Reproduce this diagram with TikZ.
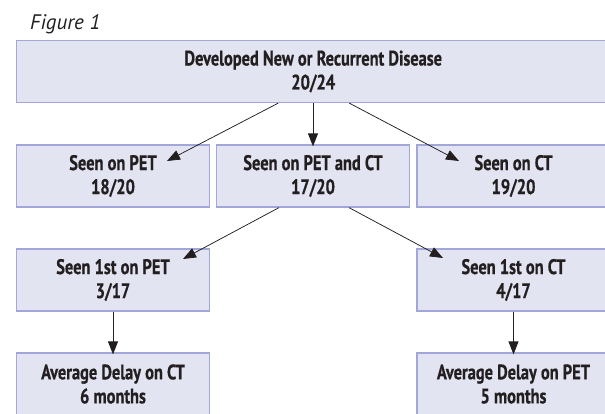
\documentclass[tikz,border=0pt]{standalone}
\usepackage{fontspec}
\setmainfont{PT Sans}
\newfontfamily\condBold{PT Sans}[FakeStretch=0.78, BoldFeatures={FakeBold=0.6}]
\usetikzlibrary{arrows.meta}
\definecolor{boxFill}{HTML}{E3E4F2}
\definecolor{boxLine}{HTML}{A3A6D8}
\definecolor{inkBlack}{HTML}{231F20}
\newcommand{\flowCell}[2]{#1\\#2}

\begin{document}
\begin{tikzpicture}[x=1pt,y=-1pt,
  box/.style={draw=boxLine, fill=boxFill, line width=1.2pt, minimum width=193pt,
    minimum height=62pt, inner sep=0pt, align=center, text=inkBlack,
    font=\condBold\bfseries\fontsize{21}{24}\selectfont},
  arr/.style={-{Triangle[length=13pt,width=10pt]}, line width=0.75pt, draw=inkBlack}]
\useasboundingbox (0,0) rectangle (605,413);
\clip (0,0) rectangle (605,413);
\node[anchor=base west, inner sep=0pt, text=inkBlack, font=\itshape\fontsize{21}{24}\selectfont] (figlabel) at (30,29) {Figure 1};
% top row
\node[box, minimum width=593.5pt] (disease) at (313.25,71.5) {\flowCell{Developed New or Recurrent Disease}{20/24}};
% second row
\node[box] (pet) at (113,176) {\flowCell{Seen on PET}{18/20}};
\node[box] (both) at (313,176) {\flowCell{Seen on PET and CT}{17/20}};
\node[box] (ct) at (513.5,176) {\flowCell{Seen on CT}{19/20}};
% third row
\node[box] (petfirst) at (113,280) {\flowCell{Seen 1st on PET}{3/17}};
\node[box] (ctfirst) at (513.5,280) {\flowCell{Seen 1st on CT}{4/17}};
% last row
\node[box] (delayct) at (113,384) {\flowCell{Average Delay on CT}{6 months}};
\node[box] (delaypet) at (513.5,384) {\flowCell{Average Delay on PET}{5 months}};
% arrows
\draw[arr] ([xshift=-35pt]disease.south) -- ([xshift=54pt,yshift=15pt]pet.center);
\draw[arr] (disease.south -| both) -- ([yshift=-2pt]both.north);
\draw[arr] ([xshift=36pt]disease.south) -- ([xshift=-54.5pt,yshift=15pt]ct.center);
\draw[arr] ([xshift=-34pt]both.south) -- ([xshift=70pt,yshift=21pt]petfirst.center);
\draw[arr] ([xshift=36pt]both.south) -- ([xshift=-70.5pt,yshift=22pt]ctfirst.center);
\draw[arr] (petfirst.south) -- ([yshift=-2pt]delayct.north);
\draw[arr] (ctfirst.south) -- ([yshift=-2pt]delaypet.north);
\end{tikzpicture}
\end{document}
